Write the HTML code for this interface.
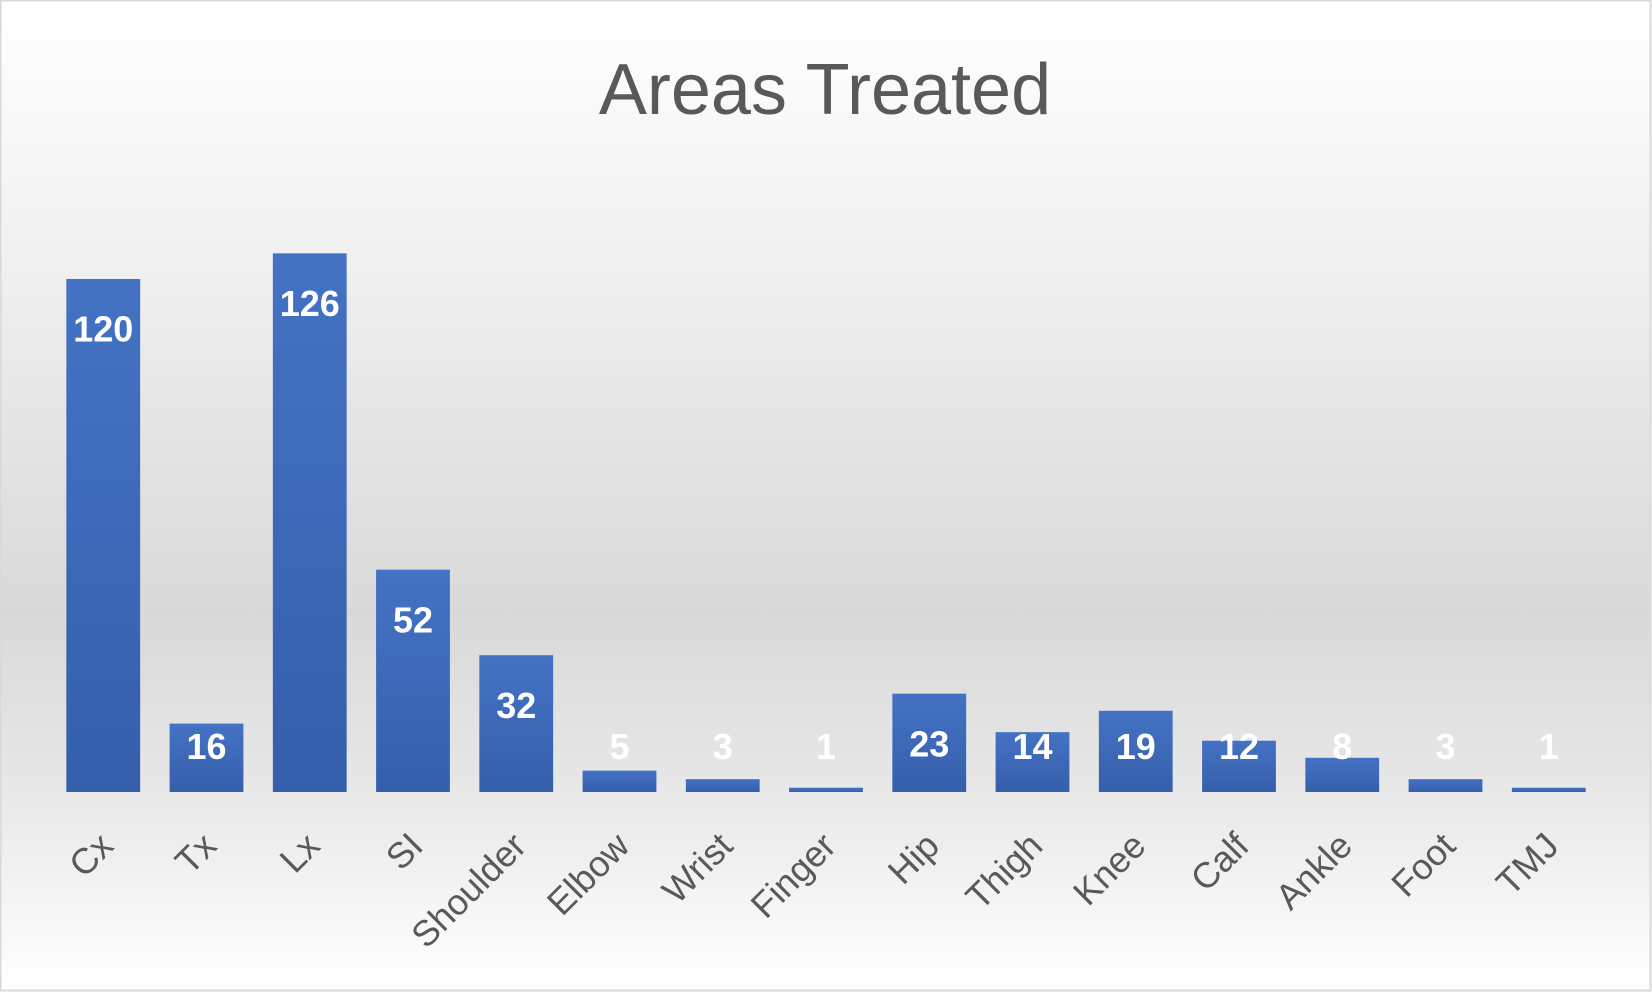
<!DOCTYPE html>
<html><head><meta charset="utf-8"><style>
html,body{margin:0;padding:0;background:#fff}
svg{display:block}
</style></head><body>
<svg width="1652" height="992" viewBox="0 0 1652 992" xmlns="http://www.w3.org/2000/svg">
<defs>
<linearGradient id="bg" x1="0" y1="0" x2="0" y2="1">
<stop offset="0" stop-color="#ffffff"/>
<stop offset="0.2" stop-color="#f4f4f4"/>
<stop offset="0.62" stop-color="#d9d9d9"/>
<stop offset="0.8" stop-color="#e8e8e8"/>
<stop offset="1" stop-color="#ffffff"/>
</linearGradient>
<linearGradient id="bar" x1="0" y1="0" x2="0" y2="1">
<stop offset="0" stop-color="#4472c4"/>
<stop offset="1" stop-color="#355fab"/>
</linearGradient>
</defs>
<rect x="0.5" y="0.5" width="1650" height="990" fill="url(#bg)" stroke="#d9d9d9" stroke-width="2"/>
<text x="825" y="114" text-anchor="middle" font-family="Liberation Sans, sans-serif" font-size="72" fill="#595959">Areas Treated</text>
<g id="bars"></g>
</svg>
<script>
var d=[["Cx",120],["Tx",16],["Lx",126],["SI",52],["Shoulder",32],["Elbow",5],["Wrist",3],["Finger",1],["Hip",23],["Thigh",14],["Knee",19],["Calf",12],["Ankle",8],["Foot",3],["TMJ",1]];
var g=document.getElementById('bars'),h='';
d.forEach(function(e,i){var c=103.25*(i+1),t=792-e[1]*4.275;
h+='<rect x="'+(c-36.9)+'" y="'+t+'" width="73.8" height="'+(792-t)+'" fill="url(#bar)"/>';
var ly=Math.min(t+50.6,747)+12;
h+='<text x="'+c+'" y="'+ly+'" text-anchor="middle" font-family="Liberation Sans, sans-serif" font-weight="bold" font-size="36" fill="#fff">'+e[1]+'</text>';
h+='<text transform="translate('+(c+12)+',848) rotate(-45)" text-anchor="end" font-family="Liberation Sans, sans-serif" font-size="36" fill="#595959">'+e[0]+'</text>';});
g.innerHTML=h;
</script>
</body></html>
